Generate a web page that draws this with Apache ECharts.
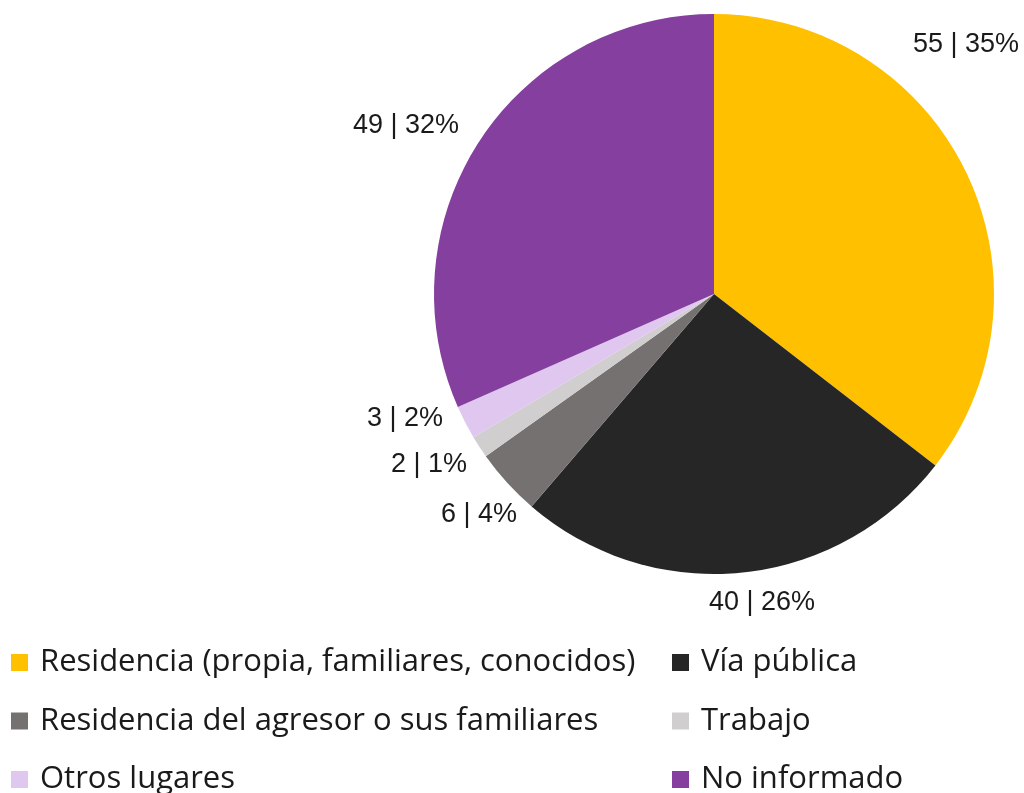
<!DOCTYPE html>
<html><head><meta charset="utf-8">
<script src="https://cdn.jsdelivr.net/npm/echarts@6/dist/echarts.min.js"></script>
<style>html,body{margin:0;padding:0;background:#fff}#c{width:1024px;height:793px}</style>
</head><body><div id="c"></div>
<script>
const categories = ["Residencia (propia, familiares, conocidos)", "Vía pública", "Residencia del agresor o sus familiares", "Trabajo", "Otros lugares", "No informado"];
const values = [55, 40, 6, 2, 3, 49];
const percents = [35, 26, 4, 1, 2, 32];
const colors = ["#FFC000", "#262626", "#767171", "#D0CECE", "#DFC7EF", "#853F9E"];
const leftLegend = [categories[0], categories[2], categories[4]];
const rightLegend = [categories[1], categories[3], categories[5]];
// label centre positions (layout only)
const labelCenters = [[966, 45], [762, 603], [479, 515], [429, 465], [405, 419], [406, 126]];

const chart = echarts.init(document.getElementById('c'), null, {renderer: 'canvas'});
const legendText = {fontFamily: 'Open Sans', fontSize: 31, color: '#1a1a1a', padding: [0, 0, 0, 7]};
const legendBase = {orient: 'vertical', top: 647, height: 200, padding: 0, itemWidth: 17, itemHeight: 17, itemGap: 27.5, icon: 'rect', textStyle: legendText, selectedMode: false};
chart.setOption({
  animation: false,
  color: colors,
  legend: [
    Object.assign({}, legendBase, {left: 11, data: leftLegend}),
    Object.assign({}, legendBase, {left: 672, data: rightLegend})
  ],
  series: [{
    type: 'pie',
    center: [714, 294],
    radius: 280,
    startAngle: 90,
    clockwise: true,
    data: categories.map((n, i) => ({name: n, value: values[i]})),
    label: {
      show: true, position: 'outside', overflow: 'none',
      formatter: p => values[p.dataIndex] + ' | ' + percents[p.dataIndex] + '%',
      fontFamily: 'Liberation Sans', fontSize: 27, color: '#1a1a1a'
    },
    labelLine: {show: false, length: 10, length2: 0},
    labelLayout: p => ({x: labelCenters[p.dataIndex][0], y: labelCenters[p.dataIndex][1], align: 'center', verticalAlign: 'middle', width: 200}),
    itemStyle: {borderWidth: 0},
    emphasis: {disabled: true}
  }]
});
</script></body></html>
